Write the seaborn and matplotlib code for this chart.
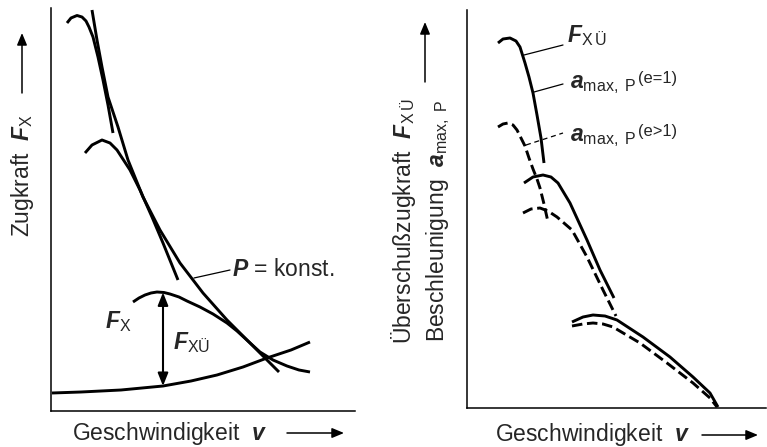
import numpy as np
import matplotlib
matplotlib.use("Agg")
import matplotlib.pyplot as plt
from matplotlib.patches import FancyArrowPatch
import seaborn as sns

# ---------------- left diagram: Zugkraft über Geschwindigkeit ----------------
# schematic curves, arbitrary units (v: 0..304, F: 0..403)
gear1_v = [16, 20, 26, 31, 35, 38, 42, 47, 52, 57, 62]
gear1_F = [388, 393, 395.5, 394, 390, 384, 374, 354, 331, 306, 278]
gear2_v = [34, 41, 51, 59, 66, 79, 89, 101, 112, 127]
gear2_F = [258, 266, 271, 268, 261, 241, 221, 194, 168, 131]
gear3_v = [82, 88, 94, 100, 106, 113, 119, 128, 136, 149, 162, 176, 186, 198,
           209, 222, 236, 248, 259]
gear3_F = [109, 113, 116, 118, 119, 118.5, 117, 114, 110, 104, 97, 88, 80, 69,
           59, 51, 45, 41, 39]
power_v = [41, 46, 51, 57, 67, 77, 92, 109, 129, 152, 176, 199, 216, 228]
power_F = [401, 371, 344, 314, 284, 251, 214, 181, 148, 118, 91, 68, 51, 39]
resist_v = [1, 30, 70, 112, 140, 166, 192, 216, 240, 259]
resist_F = [18, 19, 21, 25, 30, 36, 44, 53, 61, 69]
arrow_v = 112

# ---------------- right diagram: Überschußzugkraft / Beschleunigung ----------
# solid: F_XÜ and a_max,P (e=1); dashed: a_max,P (e>1)
fx1_v = [31, 36, 43, 49, 53, 58, 62, 66, 70, 74, 77]
fx1_F = [365, 369, 370, 367, 361, 345, 331, 315, 293, 270, 245]
ae1_v = [31, 36, 41, 46, 50, 54, 58, 62, 66, 70, 73, 77, 81]
ae1_F = [281, 284, 285, 283, 278, 270, 262, 250, 239, 229, 220, 204, 186]
fx2_v = [57, 66, 76, 84, 91, 103, 120, 133, 147]
fx2_F = [225, 231, 233, 231, 225, 205, 168, 138, 110]
ae2_v = [56, 64, 73, 81, 90, 105, 120, 136, 149]
ae2_F = [195, 199, 200, 197, 191, 178, 151, 118, 92]
fx3_v = [105, 116, 126, 138, 150, 176, 203, 226, 243, 251]
fx3_F = [86, 91, 93, 92, 88, 71, 51, 31, 15, 1]
ae3_v = [105, 116, 126, 136, 146, 173, 200, 226, 243, 250]
ae3_F = [82, 84, 85, 84, 81, 65, 45, 25, 10, 1]

sns.set_theme(style="white")
plt.rcParams["font.family"] = ["Liberation Sans", "DejaVu Sans"]
plt.rcParams["mathtext.fontset"] = "custom"
plt.rcParams["mathtext.rm"] = "Liberation Sans"
plt.rcParams["mathtext.sf"] = "Liberation Sans"
plt.rcParams["mathtext.it"] = "Liberation Sans:italic"
plt.rcParams["mathtext.bf"] = "Liberation Sans:bold"
plt.rcParams["mathtext.bfit"] = "Liberation Sans:bold:italic"

W, H = 767, 447
FS = 16.5
fig = plt.figure(figsize=(W / 100, H / 100), dpi=100)
fig.patch.set_facecolor("white")


def fx(x):
    return x / W


def fy(y):
    return 1 - y / H


ax1 = fig.add_axes([fx(51), fy(411), (355 - 51) / W, (411 - 8) / H])
ax2 = fig.add_axes([fx(467), fy(408), (766 - 467) / W, (408 - 10) / H])
ax1.set_xlim(0, 304)
ax1.set_ylim(0, 403)
ax2.set_xlim(0, 299)
ax2.set_ylim(0, 398)

for ax in (ax1, ax2):
    sns.despine(ax=ax)
    ax.set_xticks([])
    ax.set_yticks([])
    ax.set_xlabel("")
    ax.set_ylabel("")
    ax.set_facecolor("white")
    for side in ("left", "bottom"):
        ax.spines[side].set_color("black")
        ax.spines[side].set_linewidth(1.1)


def curve(ax, v, F, dashed=False):
    sns.lineplot(x=v, y=F, ax=ax, color="black", lw=2.1, sort=False,
                 estimator=None, clip_on=False,
                 linestyle=(0, (3.6, 1.6)) if dashed else "-",
                 solid_capstyle="butt", dash_capstyle="butt")


# left diagram
for v, F in ((gear1_v, gear1_F), (gear2_v, gear2_F), (gear3_v, gear3_F),
             (power_v, power_F), (resist_v, resist_F)):
    curve(ax1, v, F)

top = np.interp(arrow_v, gear3_v, gear3_F)
bot = np.interp(arrow_v, resist_v, resist_F)
ax1.annotate("", xy=(arrow_v, top), xytext=(arrow_v, bot),
             arrowprops=dict(arrowstyle="<|-|>,head_length=0.55,head_width=0.22",
                             color="black", lw=1.5, shrinkA=0, shrinkB=0,
                             mutation_scale=14))
ax1.text(67, 89, r"$\mathbfit{F}_{\mathrm{X}}$", ha="center", va="center",
         fontsize=FS)
ax1.text(141, 68, r"$\mathbfit{F}_{\mathrm{XÜ}}$",
         ha="center", va="center", fontsize=FS)
ax1.plot([143, 179], [133, 141], color="black", lw=0.9)
ax1.text(181, 141, r"$\mathbfit{P}$ = konst.", ha="left", va="center",
         fontsize=FS)

# right diagram
curve(ax2, fx1_v, fx1_F)
curve(ax2, ae1_v, ae1_F, dashed=True)
curve(ax2, fx2_v, fx2_F)
curve(ax2, ae2_v, ae2_F, dashed=True)
curve(ax2, fx3_v, fx3_F)
curve(ax2, ae3_v, ae3_F, dashed=True)

ax2.plot([57, 96], [353, 363], color="black", lw=0.9)
ax2.plot([67, 96], [316, 324], color="black", lw=0.9)
ax2.plot([59, 96], [263, 275], color="black", lw=0.9, linestyle=(0, (4, 3)))
ax2.text(100, 366, r"$\mathbfit{F}_{\mathrm{X\,Ü}}$", ha="left",
         va="baseline", fontsize=FS)
for y_base, sup in ((320, "(e=1)"), (267, "(e>1)")):
    lab = ax2.text(103, y_base, r"$\mathbfit{a}_{\mathrm{max,\ P}}$",
                   ha="left", va="baseline", fontsize=FS)
    ax2.annotate(sup, xy=(1.0, 0.42), xycoords=lab, xytext=(1, 0),
                 textcoords="offset points", ha="left", va="bottom",
                 fontsize=FS * 0.72)

# axis captions
fig.text(fx(22), fy(175), r"Zugkraft  $\mathbfit{F}_{\mathrm{X}}$",
         rotation=90, ha="center", va="center", fontsize=FS)
fig.text(fx(404), fy(221), r"Überschußzugkraft  $\mathbfit{F}_{\mathrm{X\,Ü}}$",
         rotation=90, ha="center", va="center", fontsize=FS)
fig.text(fx(438), fy(221), r"Beschleunigung  $\mathbfit{a}_{\mathrm{max,\ P}}$",
         rotation=90, ha="center", va="center", fontsize=FS)
fig.text(fx(72), fy(440), r"Geschwindigkeit $\ \mathbfit{v}$",
         ha="left", va="baseline", fontsize=FS)
fig.text(fx(495), fy(441), r"Geschwindigkeit $\ \mathbfit{v}$",
         ha="left", va="baseline", fontsize=FS)


def fig_arrow(x0, y0, x1, y1):
    fig.add_artist(FancyArrowPatch(
        (fx(x0), fy(y0)), (fx(x1), fy(y1)), transform=fig.transFigure,
        arrowstyle="-|>,head_length=0.6,head_width=0.25", mutation_scale=12,
        color="black", lw=1.1, shrinkA=0, shrinkB=0))


fig_arrow(22, 93, 22, 33)
fig_arrow(425, 82, 425, 22)
fig_arrow(287, 433, 344, 433)
fig_arrow(702, 435, 758, 435)

fig.savefig("out.png", dpi=100, facecolor="white")
